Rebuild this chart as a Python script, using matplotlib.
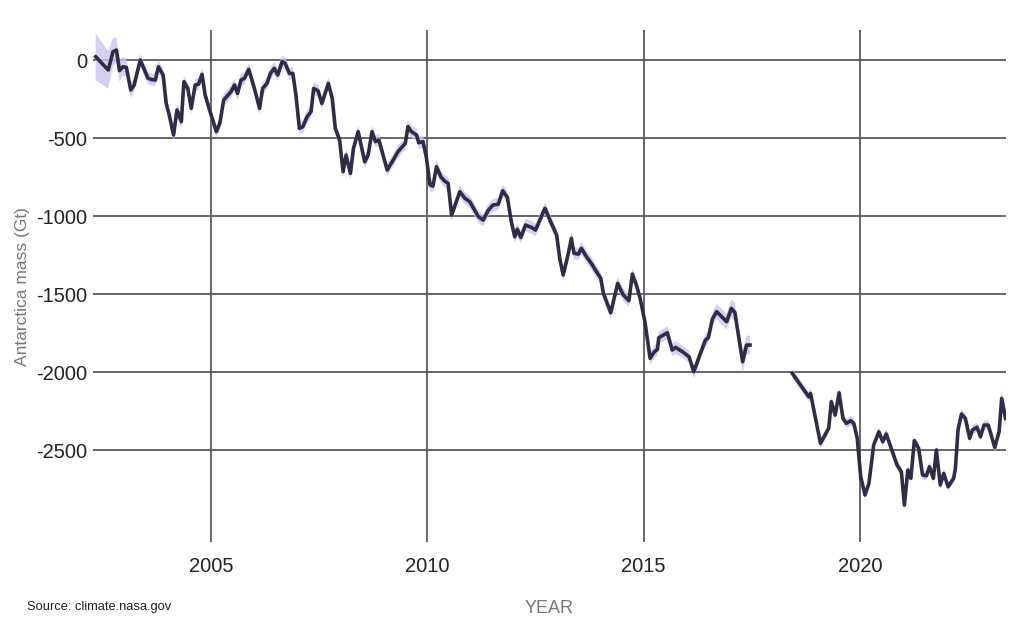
import numpy as np
import matplotlib.pyplot as plt

plt.rcParams['font.family'] = ['Liberation Sans', 'DejaVu Sans']

# Antarctica mass change (Gt); NaN marks the GRACE / GRACE-FO gap
years = [
    2002.33, 2002.62, 2002.73, 2002.81, 2002.88, 2002.96, 2003.04, 2003.14, 2003.22, 2003.36,
    2003.54, 2003.62, 2003.71, 2003.78, 2003.89, 2003.96, 2004.04, 2004.13, 2004.21, 2004.31,
    2004.37, 2004.46, 2004.54, 2004.63, 2004.71, 2004.79, 2004.86, 2005.00, 2005.12, 2005.20,
    2005.29, 2005.46, 2005.54, 2005.61, 2005.69, 2005.77, 2005.87, 2006.00, 2006.12, 2006.19,
    2006.29, 2006.37, 2006.46, 2006.54, 2006.64, 2006.71, 2006.81, 2006.89, 2006.96, 2007.04,
    2007.12, 2007.22, 2007.31, 2007.37, 2007.47, 2007.56, 2007.71, 2007.80, 2007.87, 2007.97,
    2008.05, 2008.12, 2008.22, 2008.29, 2008.40, 2008.55, 2008.63, 2008.72, 2008.80, 2008.88,
    2009.07, 2009.21, 2009.32, 2009.49, 2009.55, 2009.63, 2009.75, 2009.80, 2009.90, 2009.98,
    2010.06, 2010.13, 2010.21, 2010.31, 2010.40, 2010.48, 2010.56, 2010.75, 2010.87, 2010.98,
    2011.18, 2011.29, 2011.41, 2011.52, 2011.64, 2011.74, 2011.85, 2011.94, 2012.02, 2012.08,
    2012.16, 2012.27, 2012.41, 2012.50, 2012.60, 2012.72, 2012.85, 2012.99, 2013.06, 2013.14,
    2013.26, 2013.33, 2013.39, 2013.49, 2013.56, 2013.68, 2013.79, 2013.91, 2014.01, 2014.07,
    2014.24, 2014.40, 2014.53, 2014.66, 2014.74, 2014.84, 2014.92, 2015.03, 2015.15, 2015.25,
    2015.32, 2015.35, 2015.55, 2015.66, 2015.74, 2015.92, 2016.05, 2016.16, 2016.30, 2016.43,
    2016.50, 2016.59, 2016.69, 2016.92, 2017.03, 2017.11, 2017.29, 2017.38, 2017.46, 2017.95,
    2018.44, 2018.82, 2018.86, 2019.09, 2019.28, 2019.34, 2019.43, 2019.52, 2019.61, 2019.69,
    2019.79, 2019.86, 2019.94, 2020.02, 2020.12, 2020.21, 2020.32, 2020.44, 2020.53, 2020.61,
    2020.74, 2020.86, 2020.96, 2021.03, 2021.11, 2021.18, 2021.26, 2021.36, 2021.45, 2021.54,
    2021.61, 2021.70, 2021.77, 2021.86, 2021.94, 2022.04, 2022.17, 2022.21, 2022.27, 2022.35,
    2022.44, 2022.54, 2022.60, 2022.71, 2022.79, 2022.87, 2022.97, 2023.12, 2023.22, 2023.28,
    2023.37,
]
mass = [
    21, -64, 53, 64, -68, -43, -47, -192, -160, 0,
    -117, -125, -128, -43, -96, -278, -363, -481, -320, -395,
    -139, -182, -310, -160, -154, -92, -224, -353, -459, -406,
    -256, -203, -160, -214, -128, -117, -60, -182, -310, -182,
    -150, -86, -53, -96, -11, -21, -86, -86, -224, -438,
    -427, -363, -331, -182, -197, -278, -150, -246, -438, -513,
    -716, -609, -727, -566, -459, -652, -609, -459, -523, -513,
    -705, -641, -587, -534, -427, -459, -481, -530, -523, -630,
    -801, -808, -684, -748, -776, -790, -994, -844, -887, -908,
    -1004, -1026, -962, -929, -925, -838, -880, -1036, -1133, -1085,
    -1137, -1058, -1073, -1090, -1026, -951, -1036, -1122, -1271, -1378,
    -1239, -1143, -1239, -1244, -1207, -1261, -1303, -1357, -1399, -1496,
    -1620, -1432, -1506, -1543, -1372, -1449, -1528, -1677, -1912, -1870,
    -1855, -1780, -1748, -1859, -1842, -1874, -1902, -1998, -1891, -1795,
    -1778, -1660, -1613, -1677, -1592, -1618, -1934, -1827, -1827, np.nan,
    -2009, -2159, -2137, -2457, -2361, -2190, -2276, -2133, -2297, -2329,
    -2312, -2329, -2425, -2671, -2788, -2714, -2468, -2383, -2447, -2397,
    -2500, -2596, -2639, -2853, -2628, -2681, -2440, -2489, -2660, -2665,
    -2607, -2681, -2500, -2724, -2650, -2735, -2681, -2617, -2372, -2269,
    -2297, -2425, -2372, -2354, -2415, -2340, -2340, -2483, -2383, -2169,
    -2297,
]
# half-width of the uncertainty band (Gt)
uncert = [
    150, 120, 90, 80, 70, 60, 55, 50, 45, 40,
    40, 40, 40, 40, 40, 40, 40, 40, 40, 40,
    40, 40, 40, 40, 40, 40, 40, 40, 40, 40,
    40, 40, 40, 40, 40, 40, 40, 40, 40, 40,
    40, 40, 40, 40, 40, 40, 40, 40, 40, 40,
    40, 40, 40, 40, 40, 40, 40, 40, 40, 40,
    40, 40, 40, 40, 40, 40, 40, 40, 40, 40,
    40, 40, 40, 40, 40, 40, 40, 40, 40, 40,
    40, 40, 40, 40, 40, 40, 40, 40, 40, 40,
    40, 40, 40, 40, 40, 40, 40, 40, 40, 40,
    40, 40, 40, 40, 40, 40, 40, 40, 40, 40,
    40, 40, 40, 40, 40, 40, 40, 40, 40, 40,
    40, 40, 40, 40, 40, 40, 40, 40, 40, 40,
    40, 40, 40, 40, 40, 40, 40, 40, 40, 40,
    40, 40, 50, 50, 60, 60, 70, 60, 60, 40,
    30, 30, 30, 30, 30, 30, 30, 30, 30, 30,
    30, 30, 30, 30, 30, 30, 30, 30, 30, 30,
    30, 30, 30, 30, 30, 30, 30, 30, 30, 30,
    30, 30, 30, 30, 30, 30, 30, 30, 30, 30,
    30, 30, 30, 30, 30, 30, 30, 30, 30, 50,
    60,
]

year_ticks = [2005, 2010, 2015, 2020]
mass_ticks = [0, -500, -1000, -1500, -2000, -2500]

years = np.array(years)
mass = np.array(mass, dtype=float)
uncert = np.array(uncert, dtype=float)

fig = plt.figure(figsize=(10.24, 6.4), dpi=100)
ax = fig.add_axes([0.0905, 0.153, 0.8915, 0.800])

ax.fill_between(years, mass - uncert, mass + uncert, color='#c9c5f0', alpha=0.8,
                linewidth=0, zorder=2)
ax.plot(years, mass, color='#2f2c45', linewidth=2.6, zorder=3)

ax.set_xlim(2002.26, 2023.37)
ax.set_ylim(-3090, 192)
ax.set_xticks(year_ticks)
ax.set_yticks(mass_ticks)
ax.set_xticklabels([str(y) for y in year_ticks])
ax.set_yticklabels([str(m) for m in mass_ticks])
ax.grid(True, color='#5a5a5a', linewidth=1.3, zorder=1)
ax.set_axisbelow(True)
for s in ax.spines.values():
    s.set_visible(False)
ax.tick_params(length=0, labelsize=14.5, labelcolor='#222222')
ax.tick_params(axis='x', pad=11)
ax.tick_params(axis='y', pad=4)

fig.text(0.0215, 0.553, 'Antarctica mass (Gt)', rotation=90, ha='center', va='center',
         fontsize=12.5, color='#777777')
fig.text(0.536, 0.049, 'YEAR', ha='center', va='center', fontsize=13, color='#777777')
fig.text(0.026, 0.051, 'Source: climate.nasa.gov', ha='left', va='center',
         fontsize=9.3, color='#222222')

fig.savefig('out.png', dpi=100)
